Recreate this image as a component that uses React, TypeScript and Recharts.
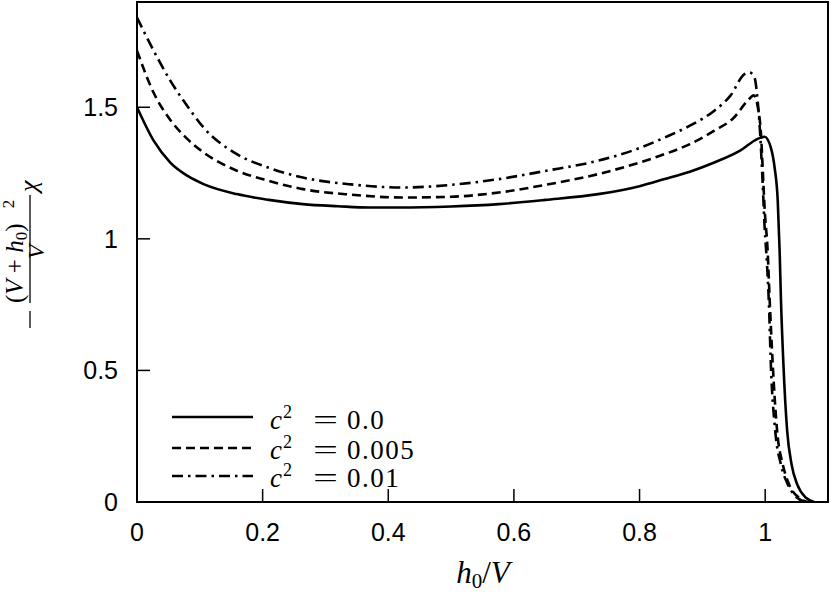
import React from "react";
import {
	Customized,
	Line,
	LineChart,
	ReferenceArea,
	XAxis,
	YAxis,
} from "recharts";

// c^2 = 0.0
const solidX = [0, 0.0265, 0.053, 0.08, 0.106, 0.159, 0.21, 0.264, 0.32, 0.37, 0.417, 0.5, 0.576, 0.65, 0.734, 0.8, 0.84, 0.88, 0.919, 0.96, 0.988, 0.999, 1.009, 1.015, 1.02, 1.023, 1.025, 1.029, 1.035, 1.042, 1.051, 1.065, 1.078];
const solidY = [1.5, 1.373, 1.29, 1.24, 1.208, 1.17, 1.148, 1.132, 1.124, 1.119, 1.119, 1.123, 1.132, 1.148, 1.17, 1.2, 1.227, 1.255, 1.29, 1.335, 1.38, 1.388, 1.347, 1.271, 1.144, 0.954, 0.777, 0.525, 0.27, 0.143, 0.067, 0.016, 0];

// c^2 = 0.005
const dashX = [0, 0.0265, 0.053, 0.08, 0.106, 0.159, 0.21, 0.264, 0.34, 0.423, 0.5, 0.576, 0.65, 0.734, 0.8, 0.84, 0.88, 0.919, 0.95, 0.972, 0.982, 0.989, 0.993, 0.996, 0.999, 1.004, 1.007, 1.012, 1.019, 1.028, 1.038, 1.054, 1.067];
const dashY = [1.715, 1.555, 1.452, 1.38, 1.328, 1.259, 1.22, 1.189, 1.168, 1.157, 1.16, 1.176, 1.205, 1.246, 1.29, 1.322, 1.36, 1.411, 1.46, 1.525, 1.545, 1.49, 1.41, 1.27, 1.12, 0.95, 0.777, 0.525, 0.27, 0.143, 0.067, 0.016, 0];

// c^2 = 0.01
const dotDashX = [0, 0.0265, 0.053, 0.08, 0.106, 0.159, 0.21, 0.264, 0.34, 0.423, 0.5, 0.576, 0.65, 0.734, 0.8, 0.84, 0.88, 0.919, 0.945, 0.967, 0.975, 0.983, 0.988, 0.992, 0.996, 0.999, 1.003, 1.006, 1.009, 1.016, 1.025, 1.036, 1.051, 1.065];
const dotDashY = [1.841, 1.715, 1.601, 1.505, 1.423, 1.322, 1.27, 1.233, 1.207, 1.195, 1.205, 1.227, 1.258, 1.297, 1.345, 1.385, 1.43, 1.487, 1.545, 1.626, 1.632, 1.613, 1.525, 1.4, 1.21, 1.05, 0.9, 0.75, 0.525, 0.27, 0.143, 0.067, 0.016, 0];

const xTicks = [0, 0.2, 0.4, 0.6, 0.8, 1];
const yTicks = [0, 0.5, 1, 1.5];
const legendLabels = ["0.0", "0.005", "0.01"];

const serif = "'Liberation Serif', 'DejaVu Serif', serif";
const sans = "'Liberation Sans', Arial, sans-serif";

const toPoints = (xs: number[], ys: number[]) =>
	xs.map((x, i) => ({ x, y: ys[i] }));

const series = [
	{ name: legendLabels[0], data: toPoints(solidX, solidY), dash: undefined },
	{ name: legendLabels[1], data: toPoints(dashX, dashY), dash: "9 5" },
	{ name: legendLabels[2], data: toPoints(dotDashX, dotDashY), dash: "11 5 2.5 5" },
];

const XTick = ({ x, y, payload }: any) => (
	<g>
		<line x1={x} y1={y} x2={x} y2={y - 13} stroke="#000" strokeWidth={1.5} />
		<text x={x} y={y + 39} textAnchor="middle" fontFamily={sans} fontSize={25} fill="#000">
			{String(payload.value)}
		</text>
	</g>
);

const YTick = ({ x, y, payload }: any) => (
	<g>
		<line x1={x} y1={y} x2={x + 13} y2={y} stroke="#000" strokeWidth={1.5} />
		<text x={x - 19} y={y + 9} textAnchor="end" fontFamily={sans} fontSize={25} fill="#000">
			{String(payload.value)}
		</text>
	</g>
);

const Decorations = () => (
	<g fill="#000" fontFamily={serif}>
		{/* y axis label: -(V+h0)^2 / V chi */}
		<g transform="translate(30,250) rotate(-90)">
			<line x1={-78} y1={0} x2={-61} y2={0} stroke="#000" strokeWidth={1.3} />
			<line x1={-53} y1={0} x2={55} y2={0} stroke="#000" strokeWidth={1.3} />
			<text x={-53} y={-7} fontSize={25}>
				<tspan>(</tspan>
				<tspan fontStyle="italic">V</tspan>
				<tspan> + </tspan>
				<tspan fontStyle="italic">h</tspan>
				<tspan fontSize={17} dy={4}>0</tspan>
				<tspan dy={-4}>)</tspan>
			</text>
			<text x={46} y={-16} textAnchor="middle" fontSize={17}>2</text>
			<text x={-2} y={14} textAnchor="middle" fontSize={24} fontStyle="italic">V</text>
			<text x={58} y={7} fontSize={26} fontStyle="italic">χ</text>
		</g>

		{/* x axis label */}
		<text x={483} y={583} textAnchor="middle" fontSize={31}>
			<tspan fontStyle="italic">h</tspan>
			<tspan fontSize={21} dy={5}>0</tspan>
			<tspan dy={-5}>/</tspan>
			<tspan fontStyle="italic">V</tspan>
		</text>

		{/* legend */}
		{series.map((s, i) => {
			const ly = [417, 448, 476][i];
			const by = [429, 459, 487][i];
			return (
				<g key={s.name}>
					<line
						x1={172}
						y1={ly}
						x2={253}
						y2={ly}
						stroke="#000"
						strokeWidth={2.6}
						strokeDasharray={s.dash}
					/>
					<text x={270} y={by} fontSize={27} fontStyle="italic">c</text>
					<text x={283} y={by - 11} fontSize={18}>2</text>
					<text x={313} y={by} fontSize={27} textLength={25} lengthAdjust="spacingAndGlyphs">=</text>
					<text x={347} y={by} fontSize={27} letterSpacing={1.5}>{s.name}</text>
				</g>
			);
		})}
	</g>
);

export default function App() {
	return (
		<div style={{ width: 831, height: 592, background: "#fff" }}>
			<style>{"body{margin:0}"}</style>
			<LineChart
				width={831}
				height={592}
				margin={{ top: 2, right: 3, left: 57, bottom: 30 }}
			>
				<XAxis
					dataKey="x"
					type="number"
					domain={[0, 1.1]}
					ticks={xTicks}
					allowDataOverflow
					axisLine={false}
					tickLine={false}
					tickSize={0}
					tickMargin={0}
					height={60}
					tick={<XTick />}
				/>
				<YAxis
					type="number"
					domain={[0, 1.9]}
					ticks={yTicks}
					allowDataOverflow
					axisLine={false}
					tickLine={false}
					tickSize={0}
					tickMargin={0}
					width={80}
					tick={<YTick />}
				/>
				<ReferenceArea
					x1={0}
					x2={1.1}
					y1={0}
					y2={1.9}
					fill="none"
					stroke="#000"
					strokeWidth={2}
				/>
				{series.map((s) => (
					<Line
						key={s.name}
						data={s.data}
						dataKey="y"
						type="monotone"
						stroke="#000"
						strokeWidth={2.6}
						strokeDasharray={s.dash}
						dot={false}
						activeDot={false}
						isAnimationActive={false}
					/>
				))}
				<Customized component={Decorations} />
			</LineChart>
		</div>
	);
}
